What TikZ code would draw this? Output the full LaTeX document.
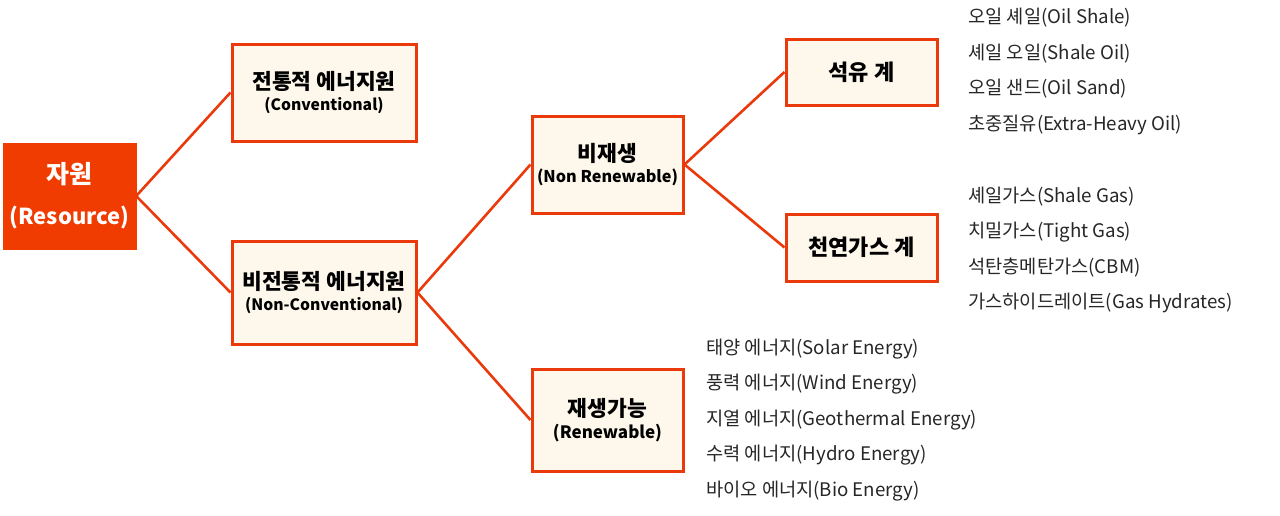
\documentclass[tikz,border=0pt]{standalone}
\usepackage{fontspec}
\setmainfont{Noto Sans CJK KR}
\begin{document}
\begin{tikzpicture}[x=1pt,y=-1pt,
  boxst/.style={draw=edgec,line width=3pt,fill=boxfill,align=center,inner sep=0pt,font=\bfseries},
  conn/.style={draw=edgec,line width=2.6pt},
  item/.style={anchor=west,inner sep=0pt,font=\fontsize{18.7}{22}\selectfont,text=textc}]
\definecolor{edgec}{HTML}{EA3A0C}
\definecolor{rootc}{HTML}{F03C00}
\definecolor{boxfill}{HTML}{FEF8EC}
\definecolor{textc}{HTML}{262626}
\useasboundingbox (0,0) rectangle (1280,515);
\node[fill=rootc,draw=rootc,minimum width=133pt,minimum height=106pt,align=center,text=white,font=\bfseries,inner sep=0pt] (root) at (69.5,196)
  {{\fontsize{25}{30}\selectfont 자원}\\[19pt]{\fontsize{22}{26}\selectfont (Resource)}};
\node[boxst,minimum width=184pt,minimum height=97pt] (conv) at (324,92.5)
  {{\fontsize{21.5}{25}\selectfont 전통적 에너지원}\\[4pt]{\fontsize{15.7}{19}\selectfont (Conventional)}};
\node[boxst,minimum width=184pt,minimum height=103pt] (nonconv) at (324,292.5)
  {{\fontsize{21.5}{25}\selectfont 비전통적 에너지원}\\[4pt]{\fontsize{15.7}{19}\selectfont (Non-Conventional)}};
\node[boxst,minimum width=151pt,minimum height=97pt] (nonren) at (607.5,164.5)
  {{\fontsize{21.5}{25}\selectfont 비재생}\\[5pt]{\fontsize{16.2}{19}\selectfont (Non Renewable)}};
\node[boxst,minimum width=151pt,minimum height=102pt] (ren) at (607.5,420)
  {{\fontsize{21.5}{25}\selectfont 재생가능}\\[4pt]{\fontsize{17}{20}\selectfont (Renewable)}};
\node[boxst,minimum width=151pt,minimum height=66pt,font=\bfseries\fontsize{22}{26}\selectfont] (oil) at (861.5,72) {석유 계};
\node[boxst,minimum width=151pt,minimum height=67pt,font=\bfseries\fontsize{22}{26}\selectfont] (gas) at (861.5,247.5) {천연가스 계};
\draw[conn] (root.east) -- (conv.west);
\draw[conn] (root.east) -- (nonconv.west);
\draw[conn] (nonconv.east) -- (nonren.west);
\draw[conn] (nonconv.east) -- (ren.west);
\draw[conn] (nonren.east) -- (oil.west);
\draw[conn] (nonren.east) -- (gas.west);
\node[item] (o1) at (968,18) {오일 셰일(Oil Shale)};
\node[item] (o2) at (968,53.5) {셰일 오일(Shale Oil)};
\node[item] (o3) at (968,89) {오일 샌드(Oil Sand)};
\node[item] (o4) at (968,125) {초중질유(Extra-Heavy Oil)};
\node[item] (g1) at (968,197) {셰일가스(Shale Gas)};
\node[item] (g2) at (968,232.5) {치밀가스(Tight Gas)};
\node[item] (g3) at (968,268) {석탄층메탄가스(CBM)};
\node[item] (g4) at (968,303) {가스하이드레이트(Gas Hydrates)};
\node[item] (r1) at (706,349) {태양 에너지(Solar Energy)};
\node[item] (r2) at (706,384.5) {풍력 에너지(Wind Energy)};
\node[item] (r3) at (706,420) {지열 에너지(Geothermal Energy)};
\node[item] (r4) at (706,455.5) {수력 에너지(Hydro Energy)};
\node[item] (r5) at (706,491) {바이오 에너지(Bio Energy)};
\end{tikzpicture}
\end{document}
